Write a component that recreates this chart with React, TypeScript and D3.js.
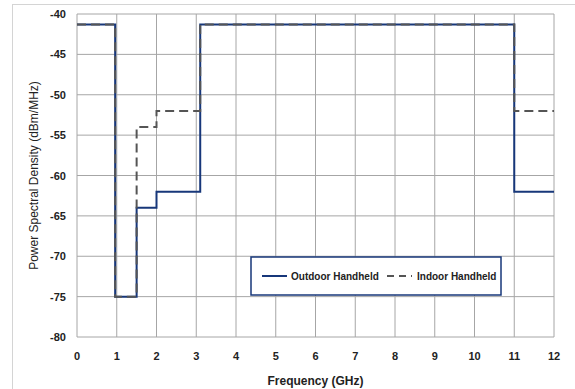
import { useMemo } from "react";
import * as d3 from "d3";

// step points of the two masks (GHz, dBm/MHz)
const outdoorFreq = [0, 0.96, 0.96, 1.5, 1.5, 2, 2, 3.1, 3.1, 11, 11, 12];
const outdoorPsd = [-41.3, -41.3, -75, -75, -64, -64, -62, -62, -41.3, -41.3, -62, -62];
const indoorFreq = [0, 0.96, 0.96, 1.5, 1.5, 2, 2, 3.1, 3.1, 11, 11, 12];
const indoorPsd = [-41.3, -41.3, -75, -75, -54, -54, -52, -52, -41.3, -41.3, -52, -52];

const xTicks = [0, 1, 2, 3, 4, 5, 6, 7, 8, 9, 10, 11, 12];
const yTicks = [-40, -45, -50, -55, -60, -65, -70, -75, -80];

const W = 575;
const H = 389;
const MARGIN = { top: 14, right: 21, bottom: 52, left: 77 };

export default function App() {
  const boundsWidth = W - MARGIN.left - MARGIN.right;
  const boundsHeight = H - MARGIN.top - MARGIN.bottom;

  const xScale = useMemo(
    () => d3.scaleLinear().domain([0, 12]).range([0, boundsWidth]),
    [boundsWidth]
  );
  const yScale = useMemo(
    () => d3.scaleLinear().domain([-80, -40]).range([boundsHeight, 0]),
    [boundsHeight]
  );

  const line = d3
    .line<[number, number]>()
    .x((d) => xScale(d[0]))
    .y((d) => yScale(d[1]));

  const outdoorPath = line(outdoorFreq.map((f, i) => [f, outdoorPsd[i]]))!;
  const indoorPath = line(indoorFreq.map((f, i) => [f, indoorPsd[i]]))!;

  const tickFont = "'Liberation Sans', Arial, sans-serif";

  return (
    <svg
      width={W}
      height={H}
      style={{ position: "absolute", left: 0, top: 0, background: "white" }}
    >
      <rect x={12.5} y={4.5} width={W + 20} height={H + 20} fill="white" stroke="#d4d4d4" />
      <g transform={`translate(${MARGIN.left},${MARGIN.top})`}>
        {xTicks.map((t) => (
          <line
            key={"gx" + t}
            x1={xScale(t)}
            x2={xScale(t)}
            y1={0}
            y2={boundsHeight}
            stroke="#a6a6a6"
            strokeWidth={1}
          />
        ))}
        {yTicks.map((t) => (
          <line
            key={"gy" + t}
            x1={0}
            x2={boundsWidth}
            y1={yScale(t)}
            y2={yScale(t)}
            stroke="#a6a6a6"
            strokeWidth={1}
          />
        ))}
        {yTicks.map((t) => (
          <text
            key={"ty" + t}
            x={-11}
            y={yScale(t)}
            textAnchor="end"
            dominantBaseline="central"
            fontFamily={tickFont}
            fontWeight="bold"
            fontSize={11}
            fill="#222"
          >
            {t}
          </text>
        ))}
        {xTicks.map((t) => (
          <text
            key={"tx" + t}
            x={xScale(t)}
            y={boundsHeight + 19}
            textAnchor="middle"
            dominantBaseline="central"
            fontFamily={tickFont}
            fontWeight="bold"
            fontSize={11}
            fill="#222"
          >
            {t}
          </text>
        ))}
        <path d={outdoorPath} fill="none" stroke="#17377a" strokeWidth={2} />
        <path
          d={indoorPath}
          fill="none"
          stroke="#555"
          strokeWidth={2}
          strokeDasharray="9,5"
        />
        <text
          x={boundsWidth / 2}
          y={boundsHeight + 44}
          textAnchor="middle"
          dominantBaseline="central"
          fontFamily={tickFont}
          fontWeight="bold"
          fontSize={12}
          fill="#222"
        >
          Frequency (GHz)
        </text>
        <text
          transform={`translate(${34 - MARGIN.left},${boundsHeight / 2}) rotate(-90)`}
          textAnchor="middle"
          dominantBaseline="central"
          fontFamily={tickFont}
          fontSize={12}
          fill="#222"
        >
          Power Spectral Density (dBm/MHz)
        </text>
        <g transform={`translate(${251 - MARGIN.left},${257 - MARGIN.top})`}>
          <rect width={250} height={38} fill="white" stroke="#17377a" strokeWidth={1.5} />
          <line x1={11} x2={36} y1={19} y2={19} stroke="#17377a" strokeWidth={2} />
          <text
            x={40}
            y={19}
            dominantBaseline="central"
            fontFamily={tickFont}
            fontWeight="bold"
            fontSize={10}
            fill="#222"
          >
            Outdoor Handheld
          </text>
          <line
            x1={136}
            x2={161}
            y1={19}
            y2={19}
            stroke="#555"
            strokeWidth={2}
            strokeDasharray="7,5"
          />
          <text
            x={166}
            y={19}
            dominantBaseline="central"
            fontFamily={tickFont}
            fontWeight="bold"
            fontSize={10}
            fill="#222"
          >
            Indoor Handheld
          </text>
        </g>
      </g>
    </svg>
  );
}
